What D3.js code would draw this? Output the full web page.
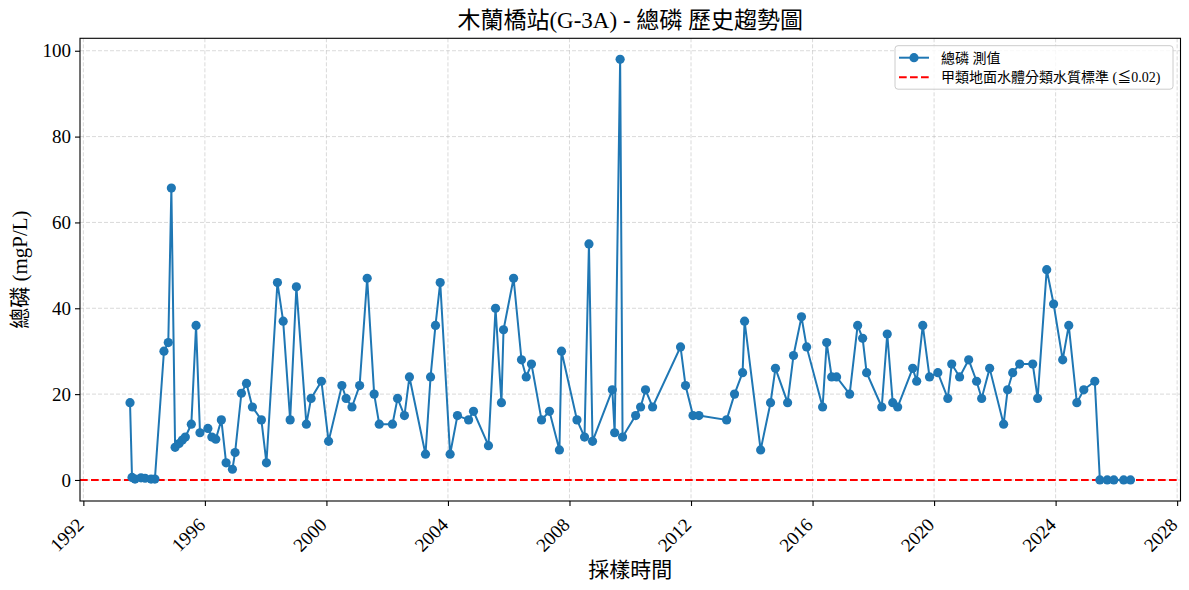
<!DOCTYPE html>
<html>
<head>
<meta charset="utf-8">
<script src="https://cdn.jsdelivr.net/npm/d3@7"></script>
<style>
  body { margin: 0; background: #fff; }
  text { font-family: "Liberation Serif", "Noto Sans CJK TC", serif; }
</style>
</head>
<body>
<div id="chart"></div>
<script>
// sampling dates and total phosphorus readings (mgP/L)
const sampleDates = [
  "1993-07-15","1993-08-08","1993-09-13","1993-11-24","1994-01-12","1994-03-25","1994-05-10",
  "1994-08-27","1994-10-18","1994-11-24","1995-01-08","1995-02-25","1995-04-05","1995-05-11",
  "1995-07-22","1995-09-17","1995-11-03","1996-02-06","1996-03-25","1996-05-11","1996-07-17",
  "1996-09-12","1996-11-27","1996-12-29","1997-03-15","1997-05-15","1997-07-25","1997-11-10",
  "1998-01-10","1998-05-22","1998-07-30","1998-10-22","1999-01-05","1999-05-05","1999-07-01",
  "1999-11-02","2000-01-27","2000-07-05","2000-08-25","2000-11-03","2001-02-03","2001-05-05",
  "2001-07-28","2001-09-27","2002-03-05","2002-05-05","2002-07-27","2002-09-25","2003-04-06",
  "2003-06-06","2003-08-04","2003-09-30","2004-01-27","2004-04-24","2004-09-05","2004-11-03",
  "2005-05-02","2005-07-26","2005-10-05","2005-10-30","2006-02-28","2006-06-03","2006-07-30",
  "2006-10-01","2007-01-30","2007-05-05","2007-09-02","2007-09-27","2008-03-31","2008-06-30",
  "2008-08-22","2008-10-04","2009-05-30","2009-06-27","2009-09-01","2009-09-30","2010-03-06",
  "2010-05-05","2010-07-03","2010-09-26","2011-08-28","2011-10-27","2012-01-25","2012-04-05",
  "2013-03-04","2013-06-07","2013-09-12","2013-10-06","2014-04-17","2014-08-14","2014-10-12",
  "2015-03-07","2015-05-17","2015-08-21","2015-10-22","2016-05-01","2016-06-19","2016-08-18",
  "2016-10-16","2017-03-22","2017-06-26","2017-08-25","2017-10-12","2018-04-12","2018-06-17",
  "2018-08-22","2018-10-20","2019-04-19","2019-06-06","2019-08-18","2019-11-07","2020-02-15",
  "2020-06-14","2020-07-31","2020-11-03","2021-02-20","2021-05-26","2021-07-26","2021-10-30",
  "2022-04-16","2022-06-03","2022-08-03","2022-10-26","2023-04-01","2023-05-30","2023-09-16",
  "2023-12-08","2024-03-26","2024-06-07","2024-09-12","2024-12-05","2025-04-16","2025-06-16",
  "2025-09-13","2025-12-01","2026-03-29","2026-06-19"
];
const tpValues = [
  18, 0.6, 0.2, 0.5, 0.4, 0.2, 0.2,
  30, 32, 68, 7.6, 8.5, 9.3, 10,
  13, 36, 11, 12, 10, 9.5, 14,
  4, 2.5, 6.4, 20.2, 22.5, 17, 14,
  4, 46, 37, 14, 45, 13, 19,
  23, 9, 22, 19, 17, 22, 47,
  20, 13, 13, 19, 15, 24, 6,
  24, 36, 46, 6, 15, 14, 16,
  8, 40, 18, 35, 47, 28, 24,
  27, 14, 16, 7, 30, 14, 10,
  55, 9, 21, 11, 98, 10, 15,
  17, 21, 17, 31, 22, 15, 15,
  14, 20, 25, 37, 7, 18, 26,
  18, 29, 38, 31, 17, 32, 24,
  24, 20, 36, 33, 25, 17, 34,
  18, 17, 26, 23, 36, 24, 25,
  19, 27, 24, 28, 23, 19, 26,
  13, 21, 25, 27, 27, 19, 49,
  41, 28, 36, 18, 21, 23, 0,
  0, 0, 0, 0
];
const standardValue = 0.02;
const yTicks = [0, 20, 40, 60, 80, 100];

const titleText = "木蘭橋站(G-3A) - 總磷 歷史趨勢圖";
const xLabel = "採樣時間";
const yLabel = "總磷 (mgP/L)";
const legendLabels = ["總磷 測值", "甲類地面水體分類水質標準 (≦0.02)"];

const width = 1189, height = 590;
const margin = { top: 38.3, right: 8.5, bottom: 89, left: 80 };
const innerW = width - margin.left - margin.right;
const innerH = height - margin.top - margin.bottom;

const parse = d3.timeParse("%Y-%m-%d");
const points = sampleDates.map((d, i) => ({ date: parse(d), value: tpValues[i] }));

// matplotlib-like 5% padding on both axes
const tExt = d3.extent(points, d => +d.date);
const tPad = (tExt[1] - tExt[0]) * 0.05;
const x = d3.scaleTime()
  .domain([new Date(tExt[0] - tPad), new Date(tExt[1] + tPad)])
  .range([0, innerW]);

const vMax = d3.max(tpValues), vMin = 0;
const vPad = (vMax - vMin) * 0.05;
const y = d3.scaleLinear()
  .domain([vMin - vPad, vMax + vPad])
  .range([innerH, 0]);

const svg = d3.select("#chart").append("svg")
  .attr("width", width)
  .attr("height", height);

const g = svg.append("g")
  .attr("transform", `translate(${margin.left},${margin.top})`);

const xTickVals = x.ticks(d3.timeYear.every(4));

// grid
g.append("g").selectAll("line")
  .data(xTickVals)
  .join("line")
  .attr("x1", d => x(d)).attr("x2", d => x(d))
  .attr("y1", 0).attr("y2", innerH)
  .attr("stroke", "#b0b0b0").attr("stroke-opacity", 0.6)
  .attr("stroke-width", 0.8).attr("stroke-dasharray", "4,2");
g.append("g").selectAll("line")
  .data(yTicks)
  .join("line")
  .attr("x1", 0).attr("x2", innerW)
  .attr("y1", d => y(d)).attr("y2", d => y(d))
  .attr("stroke", "#b0b0b0").attr("stroke-opacity", 0.6)
  .attr("stroke-width", 0.8).attr("stroke-dasharray", "4,2");

// threshold line
g.append("line")
  .attr("x1", 0).attr("x2", innerW)
  .attr("y1", y(standardValue)).attr("y2", y(standardValue))
  .attr("stroke", "#ff0000").attr("stroke-width", 2)
  .attr("stroke-dasharray", "7.7,3.3");

// series line + markers
const line = d3.line().x(d => x(d.date)).y(d => y(d.value));
g.append("path")
  .datum(points)
  .attr("fill", "none")
  .attr("stroke", "#1f77b4")
  .attr("stroke-width", 2)
  .attr("d", line);
g.append("g").selectAll("circle")
  .data(points)
  .join("circle")
  .attr("cx", d => x(d.date))
  .attr("cy", d => y(d.value))
  .attr("r", 4.6)
  .attr("fill", "#1f77b4");

// axes
const xAxis = g.append("g")
  .attr("transform", `translate(0,${innerH})`)
  .call(d3.axisBottom(x).tickValues(xTickVals).tickFormat(d3.timeFormat("%Y")).tickSize(5).tickPadding(0));
xAxis.select(".domain").remove();
xAxis.selectAll("line").attr("stroke", "#000").attr("stroke-width", 1.1);
xAxis.selectAll("text")
  .attr("font-size", 19)
  .attr("fill", "#000")
  .attr("text-anchor", "end")
  .attr("y", 0).attr("dy", 0)
  .attr("transform", "translate(1,25) rotate(-45)");

const yAxis = g.append("g")
  .call(d3.axisLeft(y).tickValues(yTicks).tickSize(5).tickPadding(4));
yAxis.select(".domain").remove();
yAxis.selectAll("line").attr("stroke", "#000").attr("stroke-width", 1.1);
yAxis.selectAll("text").attr("font-size", 19).attr("fill", "#000");

// frame
g.append("rect")
  .attr("width", innerW).attr("height", innerH)
  .attr("fill", "none").attr("stroke", "#000").attr("stroke-width", 1.1);

// title and labels
svg.append("text")
  .attr("x", margin.left + innerW / 2).attr("y", 28)
  .attr("text-anchor", "middle")
  .attr("font-size", 23)
  .text(titleText);
svg.append("text")
  .attr("x", margin.left + innerW / 2).attr("y", 577)
  .attr("text-anchor", "middle")
  .attr("font-size", 21)
  .text(xLabel);
svg.append("text")
  .attr("transform", `translate(27,${margin.top + innerH / 2}) rotate(-90)`)
  .attr("text-anchor", "middle")
  .attr("font-size", 21)
  .text(yLabel);

// legend
const lg = svg.append("g").attr("transform", "translate(895,45.7)");
lg.append("rect")
  .attr("width", 278).attr("height", 43.5).attr("rx", 3)
  .attr("fill", "#fff").attr("fill-opacity", 0.8)
  .attr("stroke", "#cccccc").attr("stroke-width", 1);
lg.append("line")
  .attr("x1", 4).attr("x2", 34).attr("y1", 12).attr("y2", 12)
  .attr("stroke", "#1f77b4").attr("stroke-width", 2);
lg.append("circle").attr("cx", 19).attr("cy", 12).attr("r", 4.6).attr("fill", "#1f77b4");
lg.append("line")
  .attr("x1", 4).attr("x2", 34).attr("y1", 31.5).attr("y2", 31.5)
  .attr("stroke", "#ff0000").attr("stroke-width", 2).attr("stroke-dasharray", "7.7,3.3");
lg.selectAll("text.lbl")
  .data(legendLabels)
  .join("text")
  .attr("class", "lbl")
  .attr("x", 46)
  .attr("y", (d, i) => 12 + i * 19.5)
  .attr("dy", "0.35em")
  .attr("font-size", 14)
  .text(d => d);
</script>
</body>
</html>
